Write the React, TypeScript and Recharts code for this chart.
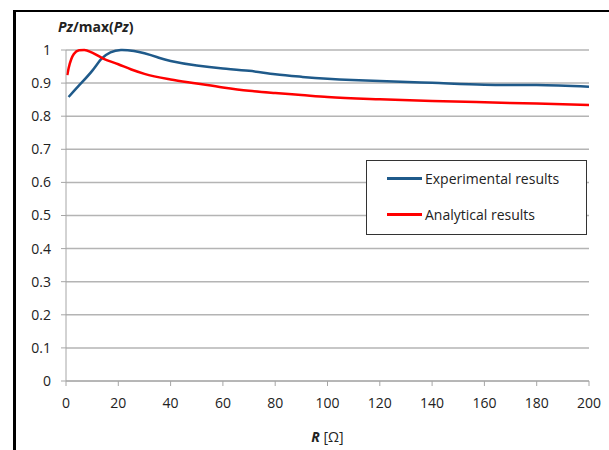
import { LineChart, Line, XAxis, YAxis, CartesianGrid } from 'recharts'

// R [Ω] and normalised Pz
const expR = [1, 5, 10, 13.5, 17, 21, 26, 30, 35, 40, 50, 60, 70, 80, 90, 100, 120, 140, 160, 180, 200]
const expV = [0.858, 0.893, 0.937, 0.973, 0.993, 1.0, 0.997, 0.99, 0.978, 0.967, 0.953, 0.944, 0.937, 0.927, 0.919, 0.913, 0.906, 0.901, 0.895, 0.894, 0.889]

const anaR = [0.5, 1, 2, 3, 5, 7, 10, 14, 20, 25, 30, 40, 50, 60, 70, 80, 90, 100, 120, 140, 160, 180, 200]
const anaV = [0.924, 0.945, 0.972, 0.988, 0.999, 1.0, 0.992, 0.975, 0.957, 0.941, 0.928, 0.911, 0.899, 0.887, 0.877, 0.87, 0.864, 0.858, 0.851, 0.846, 0.842, 0.838, 0.834]

const xTicks = [0, 20, 40, 60, 80, 100, 120, 140, 160, 180, 200]
const yTicks = [0, 0.1, 0.2, 0.3, 0.4, 0.5, 0.6, 0.7, 0.8, 0.9, 1]

const expData = expR.map((r, i) => ({ r, v: expV[i] }))
const anaData = anaR.map((r, i) => ({ r, v: anaV[i] }))

const BLUE = '#1f5a8a'
const RED = '#ff0000'
const FONT = '"Open Sans", "Liberation Sans", sans-serif'
const tick = { fontSize: 14, fill: '#222', fontFamily: FONT }

export default function App() {
  return (
    <div style={{ position: 'absolute', left: 0, top: 0, width: 609, height: 450, background: '#fff', fontFamily: FONT }}>
      <div style={{
        position: 'absolute', left: 13, top: 10, width: 596, height: 440,
        borderLeft: '3px solid #000', borderTop: '2px solid #000',
      }} />
      <LineChart width={609} height={450} data={expData}
        margin={{ top: 50, right: 20, bottom: 0, left: 0 }}>
        <CartesianGrid vertical={false} stroke="#b4b4b4" strokeWidth={1.5} />
        <XAxis dataKey="r" type="number" domain={[0, 200]} ticks={xTicks}
          height={69} tick={tick} tickSize={5} tickMargin={12}
          stroke="#a6a6a6" interval={0} allowDataOverflow />
        <YAxis type="number" domain={[0, 1]} ticks={yTicks} width={66}
          tick={tick} tickSize={5} tickMargin={10} stroke="#a6a6a6" interval={0} />
        <Line data={expData} dataKey="v" type="natural" stroke={BLUE} strokeWidth={2.5}
          dot={false} isAnimationActive={false} />
        <Line data={anaData} dataKey="v" type="monotone" stroke={RED} strokeWidth={2.5}
          dot={false} isAnimationActive={false} />
      </LineChart>

      <div style={{ position: 'absolute', left: 58, top: 17, fontSize: 14, fontWeight: 700, color: '#222' }}>
        <i>Pz</i>/max(<i>Pz</i>)
      </div>
      <div style={{ position: 'absolute', left: 0, width: 655, top: 427, textAlign: 'center', fontSize: 14, color: '#222' }}>
        <b><i>R</i></b> [Ω]
      </div>

      <div style={{
        position: 'absolute', left: 366, top: 160, width: 219, height: 73,
        border: '1px solid #333', background: '#fff', fontSize: 14, color: '#222',
      }}>
        <div style={{ position: 'absolute', left: 20, top: 8, display: 'flex', alignItems: 'center' }}>
          <span style={{ display: 'inline-block', width: 35, height: 2.5, background: BLUE, marginRight: 3 }} />
          Experimental results
        </div>
        <div style={{ position: 'absolute', left: 20, top: 44, display: 'flex', alignItems: 'center' }}>
          <span style={{ display: 'inline-block', width: 35, height: 2.5, background: RED, marginRight: 3 }} />
          Analytical results
        </div>
      </div>
    </div>
  )
}
